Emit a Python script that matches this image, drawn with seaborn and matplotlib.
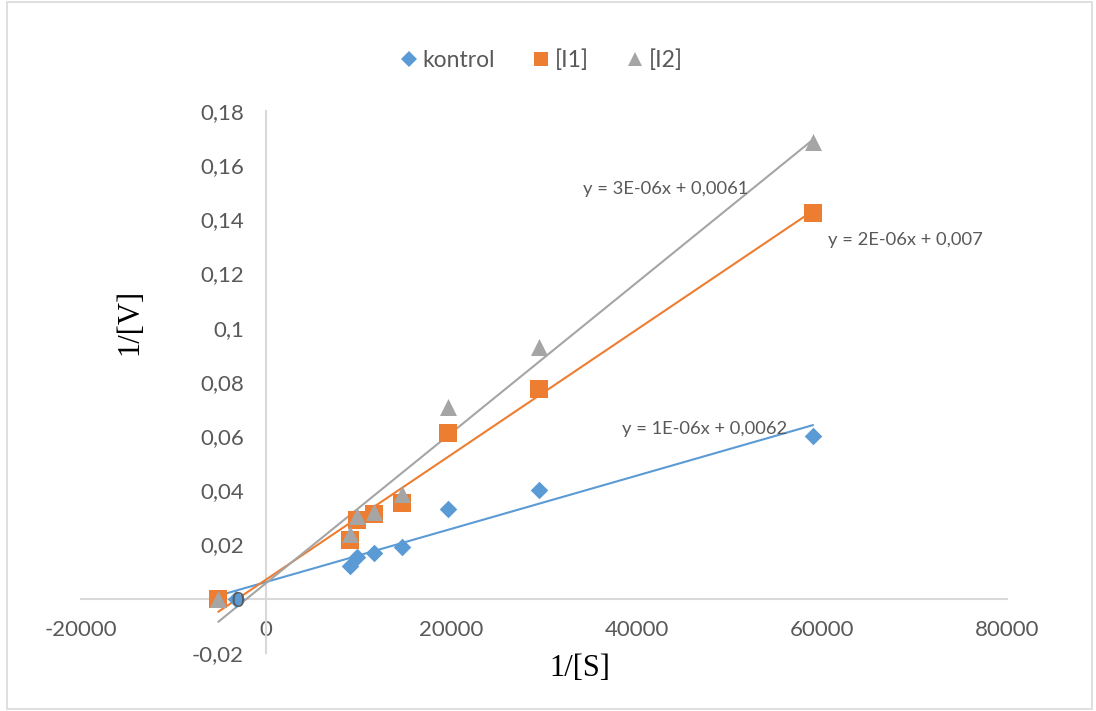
import numpy as np
import pandas as pd
import matplotlib
matplotlib.use("Agg")
import matplotlib.pyplot as plt
from matplotlib.patches import Rectangle
from matplotlib.lines import Line2D
import seaborn as sns

# ---- data ----
x_common = [9050, 9773, 11650, 14633, 19633, 29460, 59050]
kontrol_x = [-3300] + x_common
kontrol_y = [0.0, 0.0121, 0.0154, 0.0170, 0.0191, 0.0330, 0.0400, 0.0599]
i1_x = [-5173] + x_common
i1_y = [0.0, 0.0216, 0.0289, 0.0311, 0.0354, 0.0613, 0.0772, 0.1424]
i2_x = [-5173] + x_common
i2_y = [0.0, 0.0238, 0.0305, 0.0319, 0.0385, 0.0706, 0.0927, 0.1686]

series_names = ["kontrol", "[I1]", "[I2]"]
equations = ["y = 1E-06x + 0,0062", "y = 2E-06x + 0,007", "y = 3E-06x + 0,0061"]
eq_pos = [(38420, 0.0627), (60670, 0.1324), (34210, 0.1513)]
x_ticks = [-20000, 0, 20000, 40000, 60000, 80000]
y_ticks = [-0.02, 0, 0.02, 0.04, 0.06, 0.08, 0.1, 0.12, 0.14, 0.16, 0.18]
y_tick_labels = ["-0,02", "0", "0,02", "0,04", "0,06", "0,08", "0,1", "0,12", "0,14", "0,16", "0,18"]

colors = ["#5B9BD5", "#ED7D31", "#A5A5A5"]
markers = ["D", "s", "^"]
msizes = [80, 150, 150]

sns.set_theme(style="white")
plt.rcParams["font.family"] = ["Lato", "DejaVu Sans"]

fig = plt.figure(figsize=(10.96, 7.11), dpi=100)
ax = fig.add_axes([81 / 1096, 58 / 711, 926 / 1096, 542.3 / 711])

xs = [kontrol_x, i1_x, i2_x]
ys = [kontrol_y, i1_y, i2_y]
all_x = np.concatenate([np.array(v, dtype=float) for v in xs])
line_x = np.array([all_x.min(), all_x.max()])

# trendlines
for xv, yv, c in zip(xs, ys, colors):
    k, b = np.polyfit(xv, yv, 1)
    ax.plot(line_x, k * line_x + b, color=c, lw=1.5, zorder=2)

# markers
for xv, yv, c, m, s, n in zip(xs, ys, colors, markers, msizes, series_names):
    df = pd.DataFrame({"x": xv, "y": yv})
    sns.scatterplot(data=df, x="x", y="y", color=c, marker=m, s=s,
                    linewidth=0, ax=ax, zorder=3, legend=False)

for eq, (ex, ey) in zip(equations, eq_pos):
    ax.text(ex, ey, eq, ha="left", va="center", fontsize=13.2, color="#595959", zorder=4)

ax.set_xlim(-20000, 80000)
ax.set_ylim(-0.02, 0.18)
ax.set_xticks(x_ticks)
ax.set_xticklabels([str(t) for t in x_ticks])
ax.set_yticks(y_ticks)
ax.set_yticklabels(y_tick_labels)

for sp in ["top", "right"]:
    ax.spines[sp].set_visible(False)
ax.spines["bottom"].set_position(("data", 0))
ax.spines["left"].set_position(("data", 0))
for sp in ["bottom", "left"]:
    ax.spines[sp].set_color("#D9D9D9")
    ax.spines[sp].set_linewidth(1.5)
    ax.spines[sp].set_zorder(1)
ax.tick_params(axis="both", length=0, labelsize=16, colors="#595959")
ax.tick_params(axis="x", pad=15)
ax.tick_params(axis="y", pad=16)
ax.yaxis.set_zorder(5)
ax.grid(False)
ax.set_facecolor("none")

ax.set_xlabel("")
ax.set_ylabel("")
fig.text(580 / 1096, 1 - 668 / 711, "1/[S]", ha="center", va="center",
         fontsize=22, family="Liberation Serif", color="black")
fig.text(130 / 1096, 1 - 322 / 711, "1/[V]", ha="center", va="center",
         fontsize=22, family="Liberation Serif", color="black", rotation=90)

handles = [Line2D([], [], linestyle="none", marker=m, color=c, markersize=ms, markeredgewidth=0)
           for m, c, ms in zip(markers, colors, [8, 10.5, 10.5])]
fig.legend(handles, series_names, loc="center", bbox_to_anchor=(540 / 1096, 1 - 60 / 711),
           ncol=3, frameon=False, fontsize=16.5, handletextpad=0.1, columnspacing=1.5,
           handlelength=1.0, labelcolor="#595959")

fig.patches.append(Rectangle((7 / 1096, 2 / 711), 1085 / 1096, 707 / 711,
                             transform=fig.transFigure, fill=False,
                             edgecolor="#D9D9D9", linewidth=1.2))

fig.savefig("out.png", dpi=100)
